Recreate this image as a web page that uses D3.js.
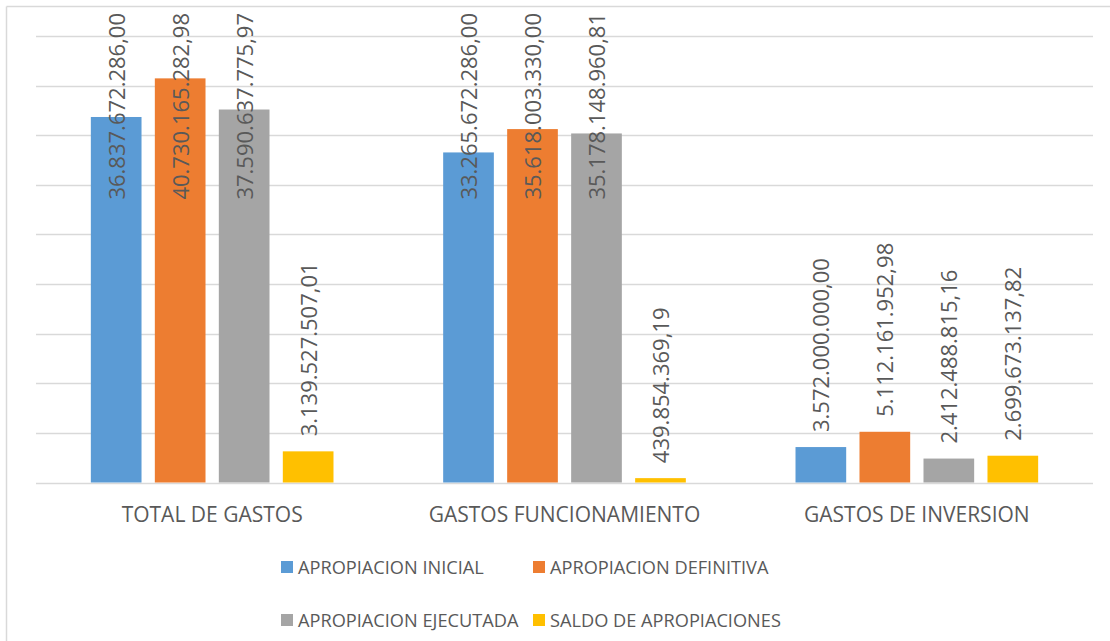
<!DOCTYPE html>
<html>
<head>
<meta charset="utf-8">
<script src="https://cdn.jsdelivr.net/npm/d3@7"></script>
<style>
  html, body { margin: 0; padding: 0; background: #fff; }
  svg { display: block; font-family: "Open Sans", sans-serif; }
</style>
</head>
<body>
<svg id="chart" width="1110" height="641"></svg>
<script>
const categories = ["TOTAL DE GASTOS", "GASTOS FUNCIONAMIENTO", "GASTOS DE INVERSION"];
const seriesNames = ["APROPIACION INICIAL", "APROPIACION DEFINITIVA", "APROPIACION EJECUTADA", "SALDO DE APROPIACIONES"];
const seriesColors = ["#5b9bd5", "#ed7d31", "#a5a5a5", "#ffc000"];
const apropiacionInicial   = [36837672286.00, 33265672286.00, 3572000000.00];
const apropiacionDefinitiva = [40730165282.98, 35618003330.00, 5112161952.98];
const apropiacionEjecutada = [37590637775.97, 35178148960.81, 2412488815.16];
const saldoApropiaciones   = [3139527507.01, 439854369.19, 2699673137.82];
const yTicks = [0, 5e9, 10e9, 15e9, 20e9, 25e9, 30e9, 35e9, 40e9, 45e9];

const seriesValues = [apropiacionInicial, apropiacionDefinitiva, apropiacionEjecutada, saldoApropiaciones];

const svg = d3.select("#chart");
const W = 1110, H = 641;
const plot = { left: 36, right: 1093, top: 36, bottom: 482.5 };
const textColor = "#595959";
const gridColor = "#d9d9d9";

const locale = d3.formatLocale({ decimal: ",", thousands: ".", grouping: [3], currency: ["", ""] });
const fmt = locale.format(",.2f");

// chart border (top and left visible)
svg.append("line").attr("x1", 6.5).attr("x2", W).attr("y1", 6.5).attr("y2", 6.5)
  .attr("stroke", gridColor).attr("stroke-width", 1.5);
svg.append("line").attr("x1", 6.5).attr("x2", 6.5).attr("y1", 6.5).attr("y2", H)
  .attr("stroke", gridColor).attr("stroke-width", 1.5);

const x0 = d3.scaleBand().domain(categories).range([plot.left, plot.right]).paddingInner(0).paddingOuter(0);
const y = d3.scaleLinear().domain([0, 45e9]).range([plot.bottom, plot.top]);

const x1 = d3.scaleBand().domain(d3.range(seriesNames.length))
  .range([0, x0.bandwidth()]).paddingInner(0.208).paddingOuter(0.857);

// gridlines
svg.append("g").selectAll("line").data(yTicks).join("line")
  .attr("x1", plot.left).attr("x2", plot.right)
  .attr("y1", d => Math.round(y(d)) + 0.5).attr("y2", d => Math.round(y(d)) + 0.5)
  .attr("stroke", gridColor).attr("stroke-width", 1.5);

// bars
const data = [];
categories.forEach((c, ci) => {
  seriesValues.forEach((vals, si) => data.push({ c, ci, si, v: vals[ci] }));
});

const g = svg.append("g");
g.selectAll("rect").data(data).join("rect")
  .attr("x", d => x0(d.c) + x1(d.si))
  .attr("width", x1.bandwidth())
  .attr("y", d => y(d.v))
  .attr("height", d => y(0) - y(d.v))
  .attr("fill", d => seriesColors[d.si]);

// value labels rotated
const labels = svg.append("g").selectAll("text").data(data).join("text")
  .attr("font-size", 22)
  .attr("fill", textColor)
  .attr("text-anchor", "start")
  .text(d => fmt(d.v));
labels.each(function(d) {
  const len = this.getComputedTextLength();
  const cx = x0(d.c) + x1(d.si) + x1.bandwidth() / 2 + 8.5;
  const by = Math.max(y(d.v) - 15, 13 + len);
  d3.select(this).attr("transform", `translate(${cx},${by}) rotate(-90)`);
});

// category labels
svg.append("g").selectAll("text").data(categories).join("text")
  .attr("x", d => x0(d) + x0.bandwidth() / 2)
  .attr("y", 522)
  .attr("text-anchor", "middle")
  .attr("font-size", 21)
  .attr("fill", textColor)
  .text(d => d);

// legend
const legendPos = [
  { x: 281, y: 567 }, { x: 533, y: 567 },
  { x: 281, y: 620 }, { x: 533, y: 620 }
];
const leg = svg.append("g").selectAll("g").data(seriesNames).join("g")
  .attr("transform", (d, i) => `translate(${legendPos[i].x},${legendPos[i].y})`);
leg.append("rect").attr("x", 0).attr("y", -6).attr("width", 12).attr("height", 12)
  .attr("fill", (d, i) => seriesColors[i]);
leg.append("text").attr("x", 17).attr("y", 7)
  .attr("font-size", 18.2).attr("fill", textColor).text(d => d);
</script>
</body>
</html>
